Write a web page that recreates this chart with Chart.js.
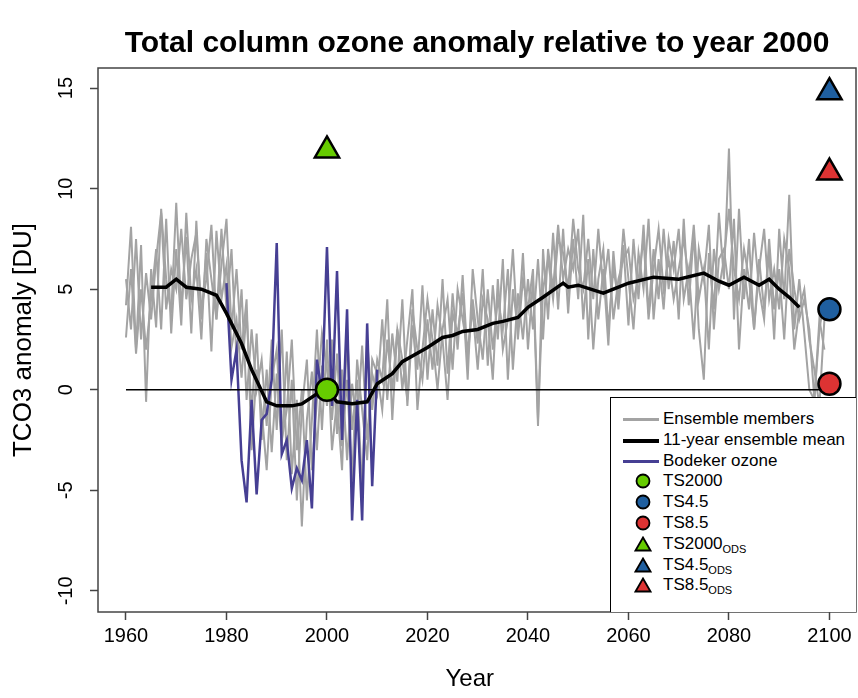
<!DOCTYPE html>
<html><head><meta charset="utf-8">
<script src="https://cdn.jsdelivr.net/npm/chart.js@4"></script>
<style>
body{margin:0;background:#fff;font-family:"Liberation Sans",Arial,sans-serif}
#wrap{position:relative;width:858px;height:698px}
#legend{position:absolute;left:610px;top:397px;width:246px;height:215px;background:#fff;border:1px solid #000;border-right:none;border-bottom:none;box-sizing:border-box;font-size:17px;color:#000}
.row{position:absolute;left:0;height:20px;line-height:20px;white-space:nowrap}
.row span.t{position:absolute;left:52px}
.ln{position:absolute;left:12px;top:9px;width:36px;height:3px}
.sym{position:absolute;left:24px;top:2px}
sub{font-size:11px;vertical-align:-4px}
</style></head><body>
<div id="wrap"><canvas id="c" width="858" height="698"></canvas>
<div id="legend"></div></div>
<script>
// years of the ensemble runs
var years = [];
for (var y = 1960; y <= 2099; y++) years.push(y);

var memberA = [4.2,8.1,2.0,7.2,-0.6,6.0,3.1,9.0,5.5,3.8,
 9.3,4.0,7.6,2.8,8.4,3.5,6.8,1.9,7.9,4.5,
 6.2,2.1,3.5,0.6,3.9,-1.2,2.8,-2.5,1.0,-3.1,
 0.8,-2.8,1.9,-4.2,-0.5,-6.8,-1.5,0.9,-3.0,1.2,
 -0.8,2.5,-2.2,1.0,-3.5,0.3,-1.8,2.2,-2.5,0.8,
 -0.2,3.5,-0.5,2.8,0.4,4.5,-0.8,3.2,1.0,5.2,
 0.5,4.0,1.2,5.5,0.8,4.8,2.0,5.7,1.5,4.5,
 2.3,6.0,1.2,5.2,2.5,6.5,0.5,5.0,3.0,6.8,
 2.0,5.5,-1.8,7.0,3.5,7.8,4.0,8.0,3.8,7.5,
 4.5,8.7,2.5,7.0,3.5,6.0,2.2,6.9,4.0,7.2,
 3.2,7.5,4.5,8.2,3.8,7.0,4.5,8.0,5.0,7.4,
 3.5,8.5,4.2,7.8,3.0,0.5,6.8,4.0,8.8,5.5,
 12.0,3.5,9.0,4.5,7.5,3.0,6.5,4.0,6.8,2.5,
 8.0,4.5,9.7,3.0,5.5,2.8,0.0,-0.5,3.0,4.5];
var memberB = [2.6,6.0,1.8,5.0,2.0,4.5,7.0,3.0,8.5,2.8,
 7.0,3.2,8.8,4.5,6.0,2.5,7.5,5.5,3.5,8.0,
 4.0,7.0,1.5,5.0,-0.5,3.0,0.0,1.5,-1.8,2.5,
 -2.0,3.0,-3.5,0.5,-5.5,-1.0,1.5,-4.0,-0.5,2.8,
 1.0,-1.5,1.8,-2.8,0.5,-4.5,1.5,-1.0,-3.5,1.5,
 0.8,-1.0,2.5,0.0,3.0,1.5,-0.5,4.0,2.0,0.5,
 3.5,1.0,4.2,2.5,-0.5,3.8,2.8,4.8,0.5,6.0,
 3.5,1.5,5.0,2.0,4.5,3.0,6.0,1.0,4.8,2.5,
 5.5,3.0,6.5,2.5,7.0,5.0,8.2,5.5,7.0,6.0,
 8.0,3.5,6.5,2.0,5.5,7.0,3.0,6.0,4.5,8.0,
 5.5,3.0,6.8,5.0,8.5,3.5,6.5,4.0,7.5,6.0,
 8.0,4.5,6.0,2.5,7.0,5.5,8.2,3.0,6.5,7.0,
 5.0,8.5,2.0,6.0,4.0,7.8,5.0,3.5,7.5,4.0,
 6.0,2.5,7.0,5.0,3.5,4.5,3.0,-0.5,3.5,2.0];
var memberC = [5.5,3.0,7.5,2.5,5.8,3.5,6.5,8.8,4.0,6.0,
 5.0,8.0,4.5,6.5,7.8,4.0,5.5,8.2,3.5,6.2,
 8.5,3.0,6.0,2.0,4.5,-3.0,1.0,-1.0,-4.0,0.5,
 2.0,-2.5,-1.0,2.5,-3.0,0.0,-5.5,-1.5,3.0,-2.0,
 2.5,-3.0,-0.5,-4.0,3.0,-2.0,0.5,-5.0,2.5,-1.0,
 1.5,0.5,4.5,-1.5,3.0,0.0,2.5,5.0,-1.0,2.0,
 4.5,2.5,0.0,3.0,4.5,1.0,5.0,3.5,2.0,4.0,
 1.0,4.5,3.5,0.5,5.5,2.0,3.5,7.0,2.5,5.5,
 4.0,6.0,-1.5,5.0,6.5,4.5,7.5,6.8,5.0,8.5,
 6.0,5.0,7.5,4.5,8.0,5.0,7.0,3.5,5.5,6.5,
 7.0,4.5,5.5,7.5,3.5,6.0,8.0,5.0,6.5,4.5,
 6.0,7.5,5.5,8.2,4.5,6.0,2.0,7.0,5.0,6.5,
 9.0,6.0,4.5,7.0,5.5,3.0,6.0,8.0,4.5,6.0,
 4.0,7.5,6.0,2.0,4.0,5.0,2.5,1.0,-0.8,3.5];

// 11-year running mean
var meanYears = [1965,1968,1970,1972,1975,1978,1980,1983,1985,1988,1990,1993,1995,1998,2000,2002,2005,2008,2010,2013,2015,2020,2023,2025,2027,2030,2033,2035,2038,2040,2043,2047,2048,2050,2055,2060,2065,2070,2075,2078,2080,2083,2086,2088,2090,2092,2094];
var meanVals  = [5.1,5.1,5.5,5.1,5.0,4.7,3.8,2.3,1.0,-0.6,-0.8,-0.8,-0.7,-0.2,0.0,-0.6,-0.7,-0.6,0.3,0.8,1.4,2.1,2.6,2.7,2.9,3.0,3.3,3.4,3.6,4.1,4.6,5.3,5.1,5.2,4.8,5.3,5.6,5.5,5.8,5.4,5.2,5.6,5.2,5.5,5.0,4.6,4.1];

// Bodeker observations
var bodYears = [];
for (var b = 1980; b <= 2010; b++) bodYears.push(b);
var bodVals = [5.3,0.5,2.0,-3.5,-5.6,-0.5,-5.2,-1.5,-1.2,0.5,7.3,-3.2,-2.5,-4.9,-3.9,-4.5,-2.5,-5.9,1.5,-0.2,7.1,-0.8,5.9,-2.5,4.0,-6.5,-0.5,-6.5,3.3,-4.8,1.0];

// time-slice experiments
var tsCircles = [{x:2000,y:0.0,c:'#66cc00'},{x:2100,y:4.0,c:'#1f5fa0'},{x:2100,y:0.3,c:'#dd3333'}];
var tsTriangles = [{x:2000,y:11.9,c:'#66cc00'},{x:2100,y:14.8,c:'#1f5fa0'},{x:2100,y:10.8,c:'#dd3333'}];

var xTicks = [1960,1980,2000,2020,2040,2060,2080,2100];
var yTicks = [15,10,5,0,-5,-10];
var TITLE = 'Total column ozone anomaly relative to year 2000';

var FONT = '"Liberation Sans", Arial';
var BOX_RIGHT = 856;

function xy(xs, vs) { return xs.map(function (x, i) { return {x: x, y: vs[i]}; }); }
function line(data, color, w, order) {
  return {type:'line', data:data, borderColor:color, borderWidth:w, pointRadius:0, fill:false, tension:0, order:order};
}

var datasets = [
  line(xy([1960,2100],[0,0]), '#000', 1.5, 2),
  line(xy(years, memberA), '#a3a3a3', 2, 5),
  line(xy(years, memberB), '#a3a3a3', 2, 5),
  line(xy(years, memberC), '#a3a3a3', 2, 5),
  line(xy(bodYears, bodVals), '#463f93', 2.5, 3),
  line(xy(meanYears, meanVals), '#000', 3.5, 1),
  {type:'scatter', order:0, clip:false, data:tsCircles.map(function(p){return {x:p.x,y:p.y};}), pointStyle:'circle', pointRadius:11,
   backgroundColor:tsCircles.map(function(p){return p.c;}), borderColor:'#000', borderWidth:2.5},
  {type:'scatter', order:0, clip:false, data:tsTriangles.map(function(p){return {x:p.x,y:p.y};}), pointStyle:'triangle', pointRadius:14,
   backgroundColor:tsTriangles.map(function(p){return p.c;}), borderColor:'#000', borderWidth:2.5}
];

// box, rotated y tick labels and title centred over the plot, R style
var frame = {
  id:'frame',
  afterDraw: function (ch) {
    var ctx = ch.ctx, a = ch.chartArea, ys = ch.scales.y;
    ctx.save();
    ctx.strokeStyle = '#444'; ctx.lineWidth = 1.5;
    ctx.strokeRect(a.left, a.top, BOX_RIGHT - a.left, a.bottom - a.top);
    ctx.fillStyle = '#000';
    ctx.font = 'bold 30px ' + FONT;
    ctx.textAlign = 'center'; ctx.textBaseline = 'middle';
    ctx.fillText(TITLE, (a.left + BOX_RIGHT) / 2, 44);
    ctx.font = '20px ' + FONT;
    ctx.textBaseline = 'bottom';
    yTicks.forEach(function (v) {
      ctx.save();
      ctx.translate(a.left - 22, ys.getPixelForValue(v));
      ctx.rotate(-Math.PI / 2);
      ctx.fillText(String(v), 0, 0);
      ctx.restore();
    });
    ctx.restore();
  }
};

new Chart(document.getElementById('c'), {
  type:'line',
  data:{datasets:datasets},
  options:{
    responsive:false, animation:false,
    layout:{padding:{top:68,right:0,left:4,bottom:0}},
    plugins:{ legend:{display:false}, tooltip:{enabled:false}, title:{display:false} },
    scales:{
      x:{type:'linear', min:1954.43, max:2102.4, offset:false,
        afterBuildTicks:function(s){ s.ticks = xTicks.map(function(v){return {value:v};}); },
        afterFit:function(s){ s.height = 86; },
        grid:{drawOnChartArea:false, tickLength:8, color:'#444', tickWidth:1.5, offset:false},
        border:{display:false},
        ticks:{color:'#000', font:{family:FONT, size:20}, maxRotation:0, padding:4,
          callback:function(v){ return String(v); }},
        title:{display:true, text:'Year', color:'#000', font:{family:FONT, size:24}, padding:{top:4}}
      },
      y:{type:'linear', min:-11.05, max:16.0,
        afterBuildTicks:function(s){ s.ticks = yTicks.map(function(v){return {value:v};}); },
        afterFit:function(s){ s.width = 94; },
        grid:{drawOnChartArea:false, tickLength:8, color:'#444', tickWidth:1.5},
        border:{display:false},
        ticks:{callback:function(){return '';}},
        title:{display:true, text:'TCO3 anomaly [DU]', color:'#000', font:{family:FONT, size:26}, padding:{bottom:0}}
      }
    }
  },
  plugins:[frame]
});

// legend
var legendItems = [
  {k:'line', c:'#a3a3a3', w:3, t:'Ensemble members'},
  {k:'line', c:'#000', w:4, t:'11-year ensemble mean'},
  {k:'line', c:'#463f93', w:3, t:'Bodeker ozone'},
  {k:'circle', c:'#66cc00', t:'TS2000'},
  {k:'circle', c:'#1f5fa0', t:'TS4.5'},
  {k:'circle', c:'#dd3333', t:'TS8.5'},
  {k:'tri', c:'#66cc00', t:'TS2000<sub>ODS</sub>'},
  {k:'tri', c:'#1f5fa0', t:'TS4.5<sub>ODS</sub>'},
  {k:'tri', c:'#dd3333', t:'TS8.5<sub>ODS</sub>'}
];
var lg = document.getElementById('legend');
legendItems.forEach(function (it, i) {
  var r = document.createElement('div');
  r.className = 'row'; r.style.top = (11 + i * 20.8) + 'px';
  var sym = '';
  if (it.k === 'line') sym = '<div class="ln" style="background:' + it.c + ';height:' + it.w + 'px"></div>';
  else if (it.k === 'circle') sym = '<svg class="sym" width="16" height="16"><circle cx="8" cy="8" r="6.5" fill="' + it.c + '" stroke="#000" stroke-width="1.8"/></svg>';
  else sym = '<svg class="sym" width="18" height="16" style="left:23px"><polygon points="9,1.5 16.5,14.5 1.5,14.5" fill="' + it.c + '" stroke="#000" stroke-width="1.8"/></svg>';
  r.innerHTML = sym + '<span class="t">' + it.t + '</span>';
  lg.appendChild(r);
});
</script>
</body></html>
